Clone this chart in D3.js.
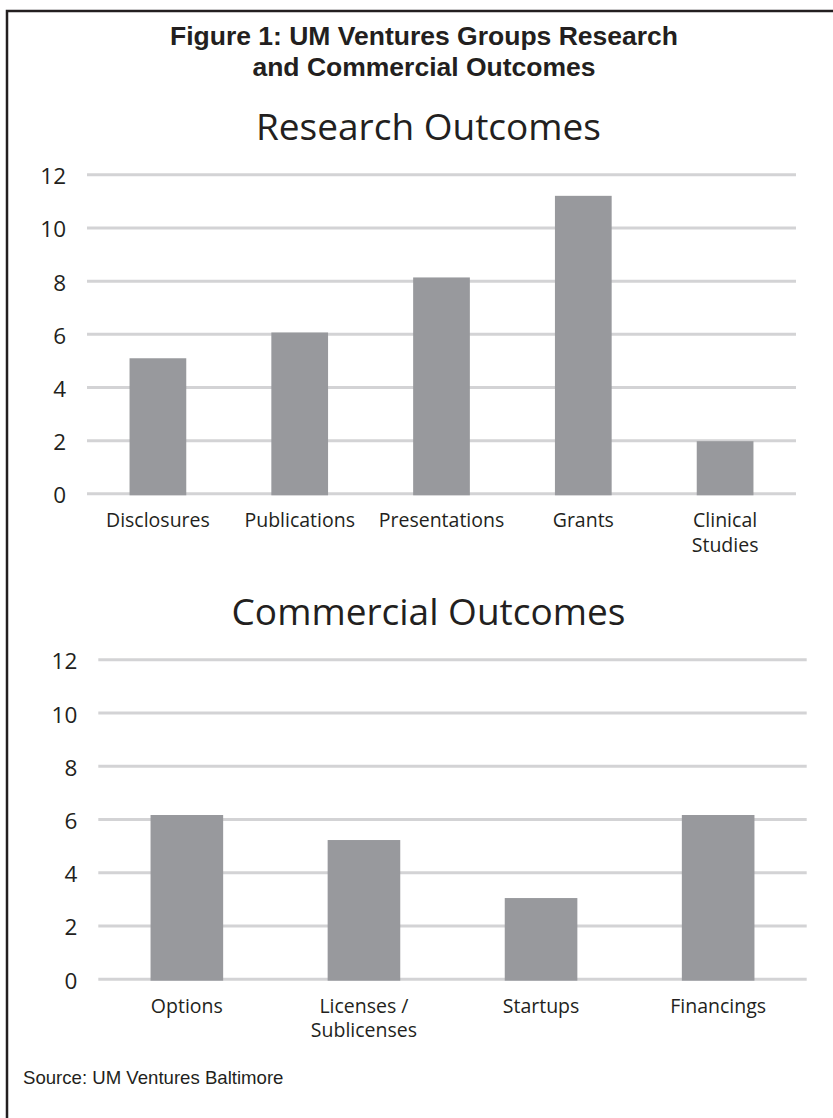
<!DOCTYPE html>
<html>
<head>
<meta charset="utf-8">
<script src="https://cdn.jsdelivr.net/npm/d3@7"></script>
<style>
  html, body { margin: 0; padding: 0; background: #fff; }
  svg { display: block; }
</style>
</head>
<body>
<svg id="chart" width="833" height="1118"></svg>
<script>
// ---- Data ----
const titleLines = ["Figure 1: UM Ventures Groups Research", "and Commercial Outcomes"];
const researchTitle = "Research Outcomes";
const researchCategories = ["Disclosures", "Publications", "Presentations", "Grants", "Clinical\nStudies"];
const researchValues = [5.08, 6.05, 8.12, 11.19, 1.96];
const commercialTitle = "Commercial Outcomes";
const commercialCategories = ["Options", "Licenses /\nSublicenses", "Startups", "Financings"];
const commercialValues = [6.15, 5.21, 3.03, 6.15];
const yTicks = [0, 2, 4, 6, 8, 10, 12];
const sourceText = "Source: UM Ventures Baltimore";

// ---- Styles ----
const textColor = "#231f20";
const barColor = "#98999d";
const gridColor = "#d3d3d5";
const labelFont = "'Open Sans', 'Noto Sans', sans-serif";
const titleFont = "'Liberation Sans', Arial, Helvetica, sans-serif";

const svg = d3.select("#chart");

// Frame
svg.append("rect")
  .attr("x", 7).attr("y", 11)
  .attr("width", 900).attr("height", 1200)
  .attr("fill", "none").attr("stroke", textColor).attr("stroke-width", 2.5);

// Figure title
svg.append("g").selectAll("text").data(titleLines).join("text")
  .attr("x", 424)
  .attr("y", (d, i) => 44.5 + i * 31)
  .attr("text-anchor", "middle")
  .attr("font-family", titleFont)
  .attr("font-weight", "bold")
  .attr("font-size", 26.5)
  .attr("fill", textColor)
  .text(d => d);

function drawPanel(cfg) {
  const g = svg.append("g");
  const x = d3.scaleBand().domain(cfg.categories).range([cfg.x0, cfg.x1])
    .paddingInner(cfg.pad).paddingOuter(cfg.pad / 2);
  const y = d3.scaleLinear().domain([0, 12]).range([cfg.y0, cfg.y12]);

  // panel title
  g.append("text")
    .attr("x", cfg.titleX).attr("y", cfg.titleY)
    .attr("text-anchor", "middle")
    .attr("font-family", labelFont)
    .attr("font-size", 37)
    .attr("fill", textColor)
    .text(cfg.title);

  // gridlines + y labels via axis
  const yAxis = d3.axisLeft(y).tickValues(yTicks)
    .tickSize(-(cfg.x1 - cfg.x0)).tickPadding(21).tickFormat(d3.format("d"));
  const ag = g.append("g").attr("transform", `translate(${cfg.x0},0)`).call(yAxis);
  ag.select(".domain").remove();
  ag.selectAll(".tick line").attr("stroke", gridColor).attr("stroke-width", 3);
  ag.selectAll(".tick text")
    .attr("font-family", labelFont).attr("font-size", 22.5)
    .attr("fill", textColor).attr("dy", null).attr("y", 9.5);

  // bars
  g.append("g").selectAll("rect").data(cfg.values).join("rect")
    .attr("x", (d, i) => x(cfg.categories[i]))
    .attr("y", d => y(d))
    .attr("width", x.bandwidth())
    .attr("height", d => y(0) + 2 - y(d))
    .attr("fill", barColor);

  // category labels
  const lbl = g.append("g").selectAll("text").data(cfg.categories).join("text")
    .attr("x", d => x(d) + x.bandwidth() / 2)
    .attr("y", y(0) + 34)
    .attr("text-anchor", "middle")
    .attr("font-family", labelFont)
    .attr("font-size", 19.5)
    .attr("fill", textColor);
  lbl.selectAll("tspan").data(d => d.split("\n")).join("tspan")
    .attr("x", function() { return d3.select(this.parentNode).attr("x"); })
    .attr("dy", (d, i) => i === 0 ? 0 : 24.5)
    .text(d => d);
}

drawPanel({
  title: researchTitle, titleX: 428.5, titleY: 139.5,
  categories: researchCategories, values: researchValues,
  x0: 87, x1: 796, y0: 493.3, y12: 174.3, pad: 0.6
});

drawPanel({
  title: commercialTitle, titleX: 428.5, titleY: 625,
  categories: commercialCategories, values: commercialValues,
  x0: 98.3, x1: 806.7, y0: 978.7, y12: 659.3, pad: 0.59
});

// Source
svg.append("text")
  .attr("x", 23).attr("y", 1084)
  .attr("font-family", titleFont)
  .attr("font-size", 18.6)
  .attr("fill", textColor)
  .text(sourceText);
</script>
</body>
</html>
